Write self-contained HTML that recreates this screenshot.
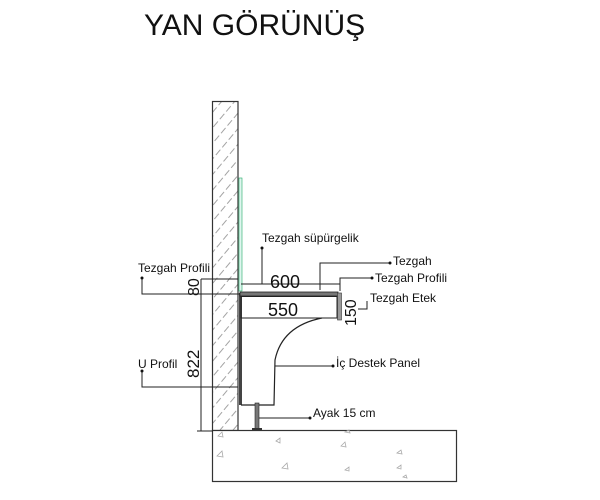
<!DOCTYPE html>
<html><head><meta charset="utf-8"><style>
html,body{margin:0;padding:0;background:#fff;}
svg{display:block;}
text{font-family:"Liberation Sans",sans-serif;fill:#111;}
</style></head><body>
<svg width="600" height="500" viewBox="0 0 600 500" xmlns="http://www.w3.org/2000/svg">
<defs>
<pattern id="h" width="10" height="10" patternUnits="userSpaceOnUse" patternTransform="rotate(-50)">
<line x1="0" y1="5" x2="7" y2="5" stroke="#999" stroke-width="0.9"/>
</pattern>
</defs>
<text x="144" y="35" font-size="30">YAN GÖRÜNÜŞ</text>
<rect x="212.5" y="101.5" width="25.5" height="329" fill="url(#h)" stroke="#333" stroke-width="1.2"/>
<rect x="212.5" y="430.5" width="244" height="51" fill="#fff" stroke="#333" stroke-width="1.2"/>
<g fill="none" stroke="#aaa" stroke-width="0.8">
<path d="M218 436 l4 -4 l1 5z M217 456 l5 -5 l1 6z M276 441 l4 -3 l0 5z M282 468 l5 -5 l1 6z M341 446 l4 -4 l1 5z M345 470 l4 -3 l0 4z M397 453 l4 -3 l1 4z M397 468 l4 -3 l0 4z M345 432 l4 -2 l1 3z M403 477 l3 -2 l1 3z"/>
</g>
<rect x="239" y="178" width="3" height="113" fill="#dff5ee" stroke="#2a6" stroke-width="0.6"/>
<rect x="239" y="293" width="3" height="112" fill="#444"/>
<rect x="240" y="292" width="98" height="4" fill="#777" stroke="#222" stroke-width="0.8"/>
<rect x="241" y="296.5" width="96" height="21.5" fill="none" stroke="#222" stroke-width="1"/>
<rect x="337.5" y="293" width="4" height="27" fill="#999" stroke="#333" stroke-width="0.6"/>
<path d="M322 318 Q282 326 275 360 L274 405 L241 405" fill="none" stroke="#222" stroke-width="1.2"/>
<rect x="255" y="403" width="4" height="27" fill="#777" stroke="#222" stroke-width="0.6"/>
<rect x="252" y="428" width="10" height="2.5" fill="#333"/>
<g stroke="#222" stroke-width="1" fill="none">
<path d="M201 287 V431 M197 431 H213"/>
<path d="M201 279 H238 M201 294 H238 M201 279 V294"/>
<path d="M241 284 H340 V291"/>
<path d="M262 248 V284"/>
<path d="M320 290 V263 H390"/>
<path d="M340 290 V278 H372"/>
<path d="M367 301 V309 H358"/>
<path d="M142 278 V294 H240"/>
<path d="M142 371 V387 H238"/>
<path d="M275 366 H333"/>
<path d="M259 418 H310"/>
</g>
<g fill="#111">
<circle cx="262" cy="248" r="1.5"/><circle cx="390" cy="263" r="1.5"/><circle cx="372" cy="278" r="1.5"/>
<circle cx="142" cy="278" r="1.5"/><circle cx="142" cy="371" r="1.5"/><circle cx="333" cy="366" r="1.5"/><circle cx="310" cy="418" r="1.5"/>
</g>
<g font-size="12">
<text x="262" y="242">Tezgah süpürgelik</text>
<text x="393" y="265">Tezgah</text>
<text x="375" y="282">Tezgah Profili</text>
<text x="370" y="302">Tezgah Etek</text>
<text x="138" y="272">Tezgah Profili</text>
<text x="138" y="368">U Profil</text>
<text x="336" y="367">İç Destek Panel</text>
<text x="313" y="417">Ayak 15 cm</text>
</g>
<text x="270" y="288" font-size="18">600</text>
<text x="268" y="316" font-size="18">550</text>
<text transform="translate(199,296) rotate(-90)" font-size="16">80</text>
<text transform="translate(199,378) rotate(-90)" font-size="17">822</text>
<text transform="translate(356,326) rotate(-90)" font-size="16">150</text>
</svg>
</body></html>
